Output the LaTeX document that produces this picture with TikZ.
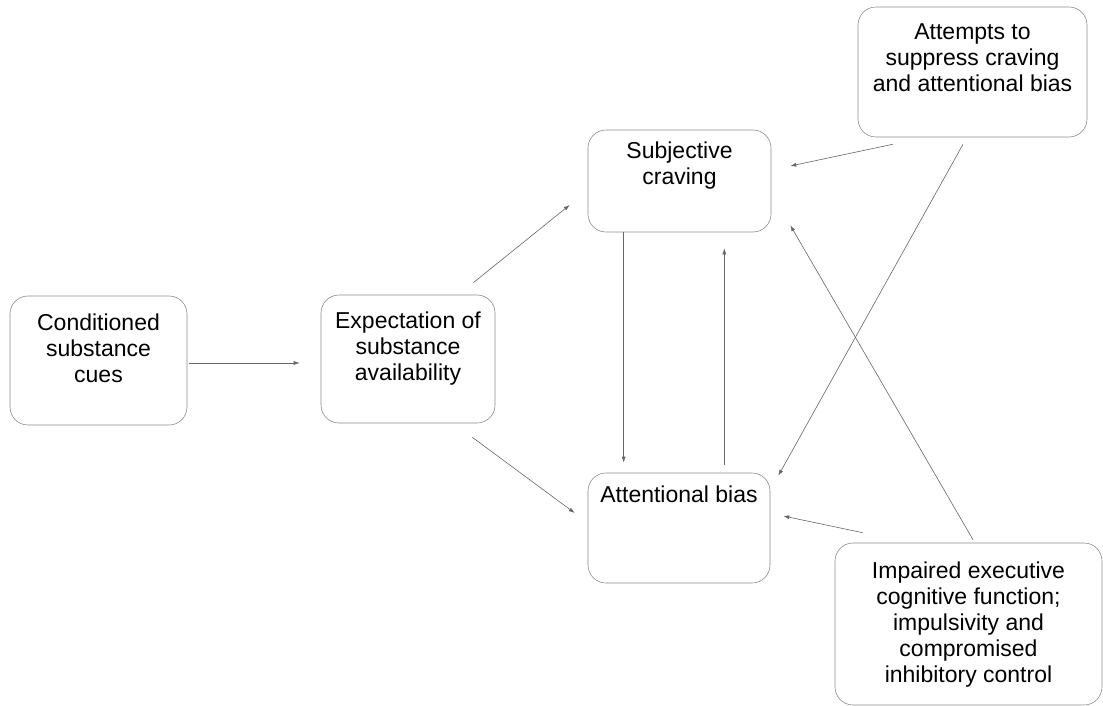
\documentclass[tikz,border=0pt]{standalone}
\usepackage{fontspec}
\setmainfont{Liberation Sans}
\usetikzlibrary{positioning,arrows.meta,calc}
\colorlet{boxdraw}{black!45}
\colorlet{linkdraw}{black!60}
\tikzset{
  stage/.style={draw=boxdraw, line width=.6pt, rounded corners=18pt, inner sep=0pt},
  stagetext/.style={anchor=north, inner sep=0pt, align=center, font=\fontsize{23}{26}\selectfont},
  link/.style={draw=linkdraw, line width=.6pt, -{Latex[length=6pt,width=4pt]}}
}
\begin{document}
\begin{tikzpicture}[x=1pt,y=-1pt]
  \useasboundingbox (0,0) rectangle (1103,706);
  % boxes
  \node[stage, minimum width=177pt, minimum height=129pt,
        label={[stagetext,yshift=-18pt]north:Conditioned\\substance\\cues}] (cues) at (98.5,360.5) {};
  \node[stage, minimum width=174pt, minimum height=128pt,
        label={[stagetext,yshift=-17pt]north:Expectation of\\substance\\availability}] (expect) at (408,359) {};
  \node[stage, minimum width=183pt, minimum height=102pt,
        label={[stagetext,yshift=-12pt]north:Subjective\\craving}] (craving) at (679.5,181) {};
  \node[stage, minimum width=182pt, minimum height=110pt,
        label={[stagetext,yshift=-13pt]north:Attentional bias}] (bias) at (679,528) {};
  \node[stage, minimum width=229pt, minimum height=130pt,
        label={[stagetext,yshift=-17pt]north:Attempts to\\suppress craving\\and attentional bias}] (suppress) at (972.5,72) {};
  \node[stage, minimum width=267pt, minimum height=162pt,
        label={[stagetext,yshift=-19pt]north:Impaired executive\\cognitive function;\\impulsivity and\\compromised\\inhibitory control}] (impair) at (968.5,624) {};
  % links
  \draw[link] ($(cues.east)+(2,2.5)$) -- ($(expect.west)+(-21,4)$);
  \draw[link] ($(expect.north east)+(-22,-12)$) -- ($(craving.west)+(-18,24)$);
  \draw[link] ($(expect.south east)+(-23,14)$) -- ($(bias.west)+(-13,-15)$);
  \draw[link] ($(craving.south west)+(36,0)$) -- ($(bias.north west)+(36,-10)$);
  \draw[link] ($(bias.north east)+(-46,-8)$) -- ($(craving.south east)+(-47,16)$);
  \draw[link] ($(suppress.south west)+(35,7)$) -- ($(craving.east)+(19,-15)$);
  \draw[link] ($(suppress.south)+(-9.5,7)$) -- ($(bias.north east)+(8,3)$);
  \draw[link] ($(impair.north west)+(28,-10)$) -- ($(bias.east)+(13,-12)$);
  \draw[link] ($(impair.north)+(4.5,-3)$) -- ($(craving.south east)+(19,-7)$);
\end{tikzpicture}
\end{document}
